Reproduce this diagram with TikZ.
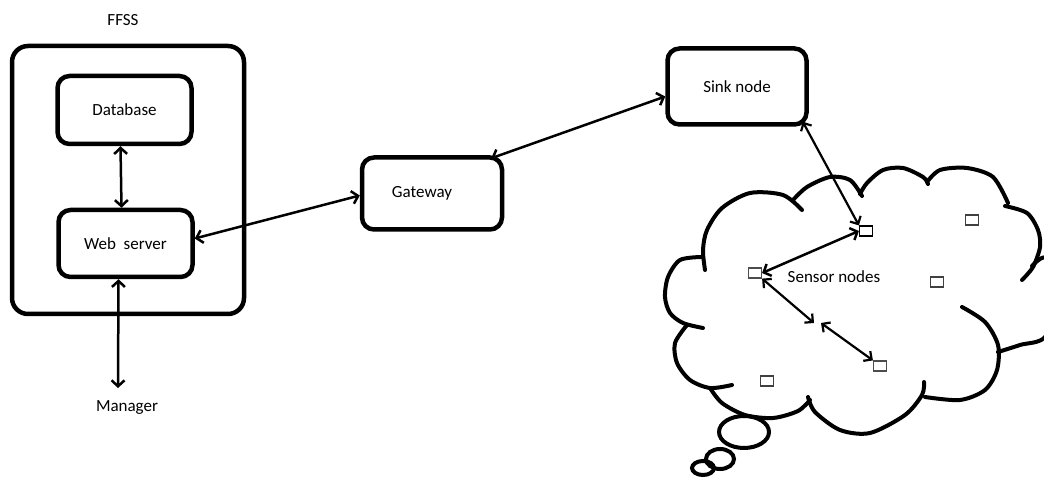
\documentclass[tikz,border=0pt]{standalone}
\usepackage{fontspec}
\setmainfont{Carlito}
\usetikzlibrary{arrows.meta}
\tikzset{
  box/.style={draw, line width=4.5pt, rounded corners=12pt, inner sep=0pt, font=\fontsize{17}{20}\selectfont},
  lbl/.style={inner sep=0pt, font=\fontsize{17}{20}\selectfont},
  conn/.style={line width=2.5pt, {Straight Barb[length=6pt,width=13pt]}-{Straight Barb[length=6pt,width=13pt]}},
  thinconn/.style={line width=2.2pt, {Straight Barb[length=6pt,width=12pt]}-{Straight Barb[length=6pt,width=12pt]}},
  sensor/.style={draw, line width=1.2pt, minimum width=13pt, minimum height=10pt, inner sep=0pt},
  puff/.style={line width=4pt, line cap=round, line join=round},
}
\begin{document}
\begin{tikzpicture}[x=1pt,y=-1pt]
\useasboundingbox (0,0) rectangle (1044,478);
\fill[white] (0,0) rectangle (1044,478);
\begin{scope}
\clip (0,0) rectangle (1044,478);
% FFSS container
\node[lbl] (ffsslbl) at (123,20) {FFSS};
\node[box, minimum width=232pt, minimum height=268pt, rounded corners=16pt] (ffss) at (128,180) {};
\node[box, minimum width=134pt, minimum height=68pt] (db) at (124.5,110) {Database};
\node[box, minimum width=134pt, minimum height=67pt] (ws) at (125.5,243.5) {Web\ \ server};
\node[lbl] (mgr) at (127,408) {Manager};
\coordinate (mgrtip) at (118,388);
\node[box, minimum width=140pt, minimum height=72pt] (gw) at (432,193.5) {\hspace*{-20pt}Gateway};
\node[box, minimum width=139pt, minimum height=76pt] (sink) at (737,86.5) {Sink node};

% cloud
\draw[puff] plot[smooth] coordinates {(705,270) (703,250) (707,230) (722,208) (750,193) (783,195) (802,210)};
\draw[puff] plot[smooth] coordinates {(793,200) (807,187) (830,177) (850,180) (862,196)};
\draw[puff] plot[smooth] coordinates {(860,194) (867,183) (883,170) (903,168) (923,177) (928,184)};
\draw[puff] plot[smooth] coordinates {(927,182) (940,170) (967,168) (993,177) (1008,203)};
\draw[puff] plot[smooth] coordinates {(1005,206) (1027,213) (1038,230) (1040,247) (1033,267) (1022,280)};
\draw[puff] plot[smooth] coordinates {(1032,266) (1046,258) (1060,290) (1046,336) (1020,345) (998,352)};
\draw[puff] plot[smooth] coordinates {(962,307) (985,322) (998,345) (997,370) (985,390) (960,400) (925,397)};
\draw[puff] plot[smooth] coordinates {(924,382) (922,395) (905,415) (870,433) (840,430) (815,412) (808,397)};
\draw[puff] plot[smooth] coordinates {(810,400) (798,411) (773,418) (745,415) (722,403) (710,388)};
\draw[puff] plot[smooth] coordinates {(687,325) (675,343) (677,363) (690,380) (710,388) (732,385)};
\draw[puff] plot[smooth] coordinates {(702,257) (680,260) (668,277) (665,297) (670,313) (683,323) (703,328)};
\draw[line width=4pt] (744,432) ellipse [x radius=25, y radius=16];
\draw[line width=4pt] (720,459) ellipse [x radius=14, y radius=10];
\draw[line width=4pt] (703,468) ellipse [x radius=11, y radius=7];
\end{scope}

% sensors
\node[sensor] (s1) at (866,231) {};
\node[sensor, draw=black!70] (s2) at (755,273) {};
\node[sensor, draw=black!70] (s4) at (880,366) {};
\node[sensor, draw=black!75] (s5) at (972,220) {};
\node[sensor, draw=black!75] (s6) at (937,282) {};
\node[sensor, draw=black!75] (s7) at (767,381) {};
\coordinate (mid) at (818,323);
\node[lbl] (sens) at (834,277) {Sensor nodes};

% connectors
\draw[conn] ([xshift=-4pt]db.south) -- ([xshift=-4pt]ws.north);
\draw[conn] ([xshift=-7pt]ws.south) -- (mgrtip);
\draw[conn] ([yshift=5pt]ws.east) -- ([yshift=-2pt]gw.west);
\draw[conn] ([xshift=-13pt,yshift=-3pt]gw.north east) -- ([yshift=-10pt]sink.west);
\draw[thinconn] ([xshift=-6pt,yshift=5pt]sink.south east) -- (s1.north west);
\draw[conn] (s1.west) -- (s2.east);
\draw[thinconn] (s2.south east) -- ([xshift=-4pt]mid);
\draw[thinconn] ([xshift=3pt]mid) -- (s4.north west);
\end{tikzpicture}
\end{document}
